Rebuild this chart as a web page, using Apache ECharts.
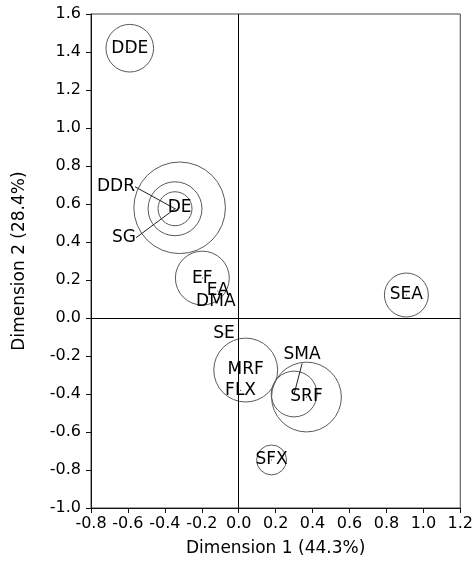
<!DOCTYPE html>
<html>
<head>
<meta charset="utf-8">
<script src="https://cdn.jsdelivr.net/npm/echarts@6/dist/echarts.min.js"></script>
<style>
  html, body { margin: 0; padding: 0; background: #fff; }
  #chart { width: 476px; height: 574px; }
</style>
</head>
<body>
<div id="chart"></div>
<script>
// Correspondence-analysis map: category coordinates on the first two dimensions
const names = ['DDE', 'DE', 'DDR', 'SG', 'EF', 'EA', 'DMA', 'SEA', 'SE', 'MRF', 'FLX', 'SMA', 'SRF', 'SFX'];
const dim1  = [-0.59, -0.32, -0.345, -0.345, -0.197, -0.113, -0.124, 0.908, -0.08, 0.038, 0.01, 0.30, 0.367, 0.178];
const dim2  = [1.42, 0.58, 0.575, 0.575, 0.21, 0.142, 0.084, 0.121, -0.084, -0.274, -0.38, -0.40, -0.416, -0.747];
// circle radius of each category, in Dimension 1 units (0 = no circle)
const radius = [0.129, 0.248, 0.146, 0.092, 0.146, 0, 0, 0.119, 0, 0.173, 0, 0.124, 0.189, 0.081];

const xTicks = { min: -0.8, max: 1.2, step: 0.2 };
const yTicks = { min: -1.0, max: 1.6, step: 0.2 };

const FONT = 'DejaVu Sans';

// labels pulled away from their point and joined with a leader line
const leaderOffset = { DDR: [-59, -22], SG: [-51, 29], SMA: [8, -39] };

const pointData = names.map((n, i) => {
  const item = { name: n, value: [dim1[i], dim2[i]] };
  if (leaderOffset[n]) item.labelLine = { show: true };
  return item;
});

const circleData = [];
names.forEach((n, i) => {
  if (radius[i] > 0) circleData.push([dim1[i], dim2[i], radius[i]]);
});

const chart = echarts.init(document.getElementById('chart'), null, { renderer: 'canvas' });

chart.setOption({
  animation: false,
  backgroundColor: '#fff',
  grid: {
    left: 91, right: 14, top: 14, bottom: 66,
    show: true, borderColor: '#444', borderWidth: 1, backgroundColor: 'transparent'
  },
  xAxis: {
    type: 'value', min: xTicks.min, max: xTicks.max, interval: xTicks.step,
    name: 'Dimension 1 (44.3%)', nameLocation: 'middle', nameGap: 32,
    nameTextStyle: { fontFamily: FONT, fontSize: 17, color: '#000' },
    axisLine: { onZero: false, lineStyle: { color: '#111', width: 1 } },
    axisTick: { show: true, length: 5, lineStyle: { color: '#111' } },
    axisLabel: { fontFamily: FONT, fontSize: 16, color: '#000', margin: 8,
      formatter: v => v.toFixed(1) },
    splitLine: { show: false }
  },
  yAxis: {
    type: 'value', min: yTicks.min, max: yTicks.max, interval: yTicks.step,
    name: 'Dimension 2 (28.4%)', nameLocation: 'middle', nameGap: 63,
    nameTextStyle: { fontFamily: FONT, fontSize: 17, color: '#000' },
    axisLine: { onZero: false, lineStyle: { color: '#111', width: 1 } },
    axisTick: { show: true, length: 5, lineStyle: { color: '#111' } },
    axisLabel: { fontFamily: FONT, fontSize: 16, color: '#000', margin: 10,
      formatter: v => v.toFixed(1) },
    splitLine: { show: false }
  },
  series: [
    {
      // category circles, radius scaled through the x axis
      type: 'custom',
      name: 'circles',
      silent: true,
      data: circleData,
      renderItem: function (params, api) {
        const c = api.coord([api.value(0), api.value(1)]);
        const r = api.size([api.value(2), 0])[0];
        return {
          type: 'circle',
          shape: { cx: c[0], cy: c[1], r: r },
          style: { fill: 'none', stroke: '#5a5a5a', lineWidth: 1 }
        };
      },
      z: 3
    },
    {
      // category points with their names
      type: 'scatter',
      name: 'points',
      symbolSize: 1,
      itemStyle: { color: '#000', opacity: 1 },
      data: pointData,
      label: {
        show: true, position: 'inside', formatter: '{b}',
        fontFamily: FONT, fontSize: 17, color: '#000',
        textBorderWidth: 0, opacity: 1
      },
      labelLine: { show: false, lineStyle: { color: '#222', width: 1 } },
      labelLayout: function (params) {
        const off = leaderOffset[names[params.dataIndex]];
        if (off) return { dx: off[0], dy: off[1] };
        return {};
      },
      markLine: {
        silent: true, symbol: 'none', label: { show: false },
        lineStyle: { color: '#000', type: 'solid', width: 1 },
        data: [{ xAxis: 0 }, { yAxis: 0 }]
      },
      z: 4
    }
  ]
});
</script>
</body>
</html>
